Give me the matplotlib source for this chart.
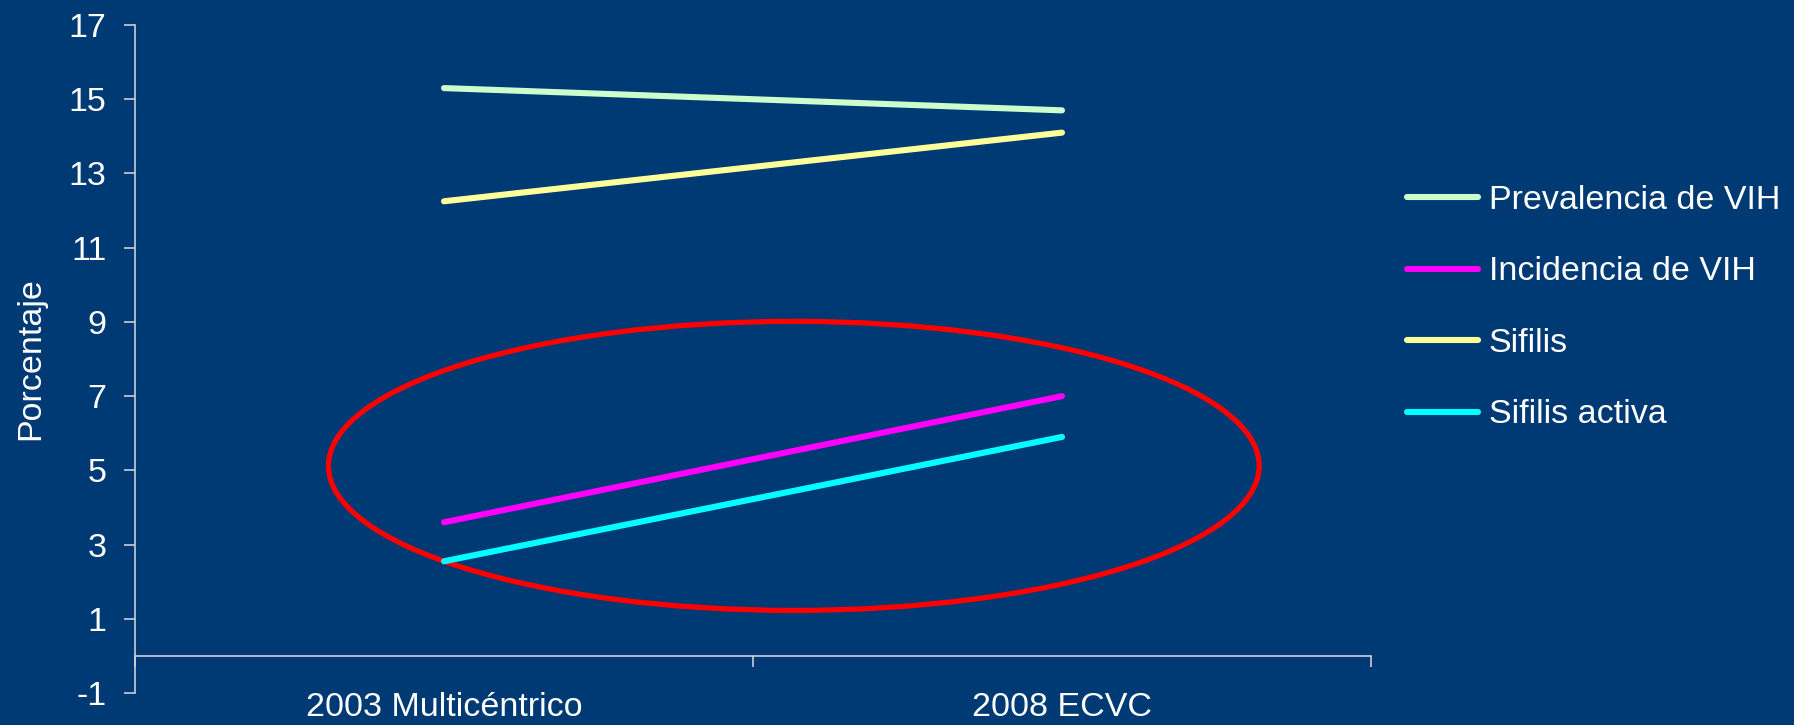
import matplotlib
matplotlib.use("Agg")
import matplotlib.pyplot as plt
from matplotlib.patches import Ellipse

plt.rcParams['font.family'] = ['Liberation Sans', 'DejaVu Sans']

categories = ["2003 Multicéntrico", "2008 ECVC"]
series_names = ["Prevalencia de VIH", "Incidencia de VIH", "Sifilis", "Sifilis activa"]
prevalencia_vih = [15.3, 14.7]
incidencia_vih = [3.6, 7.0]
sifilis = [12.25, 14.1]
sifilis_activa = [2.55, 5.9]
y_ticks = [-1, 1, 3, 5, 7, 9, 11, 13, 15, 17]

series = [prevalencia_vih, incidencia_vih, sifilis, sifilis_activa]
colors = ["#CCFFCC", "#FF00FF", "#FFFF99", "#00FFFF"]

BG = "#003A74"
AXC = "#C8D0DA"
FS = 24.5
LW = 4.4

fig = plt.figure(figsize=(17.94, 7.25), dpi=100, facecolor=BG)
ax = fig.add_axes([135/1794, 32/725, (1371-135)/1794, (693-25)/725])
ax.set_facecolor(BG)

xpos = [0.25, 0.75]
for name, vals, c in zip(series_names, series, colors):
    ax.plot(xpos, vals, color=c, lw=LW, solid_capstyle='round', label=name)

ax.set_xlim(0, 1)
ax.set_ylim(-1, 17)
ax.set_yticks(y_ticks)
ax.set_yticklabels([str(t) for t in y_ticks])
ax.set_xticks(xpos)
ax.set_xticklabels(categories)
ax.set_xticks([0, 0.5, 1], minor=True)

for s in ['top', 'right']:
    ax.spines[s].set_visible(False)
ax.spines['bottom'].set_position(('data', 0))
ax.spines['left'].set_color(AXC)
ax.spines['bottom'].set_color(AXC)
ax.spines['left'].set_linewidth(1.2)
ax.spines['bottom'].set_linewidth(1.2)

ax.tick_params(axis='y', colors=AXC, labelcolor='white', labelsize=FS, length=8, width=1.2, pad=12.5)
ax.tick_params(axis='x', which='major', length=0, labelcolor='white', labelsize=FS, pad=26)
ax.tick_params(axis='x', which='minor', colors=AXC, length=8, width=1.2)

ax.set_ylabel("Porcentaje", color='white', fontsize=FS, labelpad=16)

ell = Ellipse((0.533, 5.12), 0.753, 7.79, fill=False, edgecolor='#FF0000', lw=3.8)
ax.add_patch(ell)

leg = fig.legend(loc='upper left', bbox_to_anchor=(1407/1794, 1 - 185/725),
                 frameon=False, fontsize=FS, handlelength=2.1, handletextpad=0.3,
                 labelspacing=1.19, borderpad=0, borderaxespad=0)
for t in leg.get_texts():
    t.set_color('white')
for h in leg.get_lines():
    h.set_linewidth(LW)
    h.set_solid_capstyle('round')

fig.savefig("out.png", dpi=100, facecolor=BG)
